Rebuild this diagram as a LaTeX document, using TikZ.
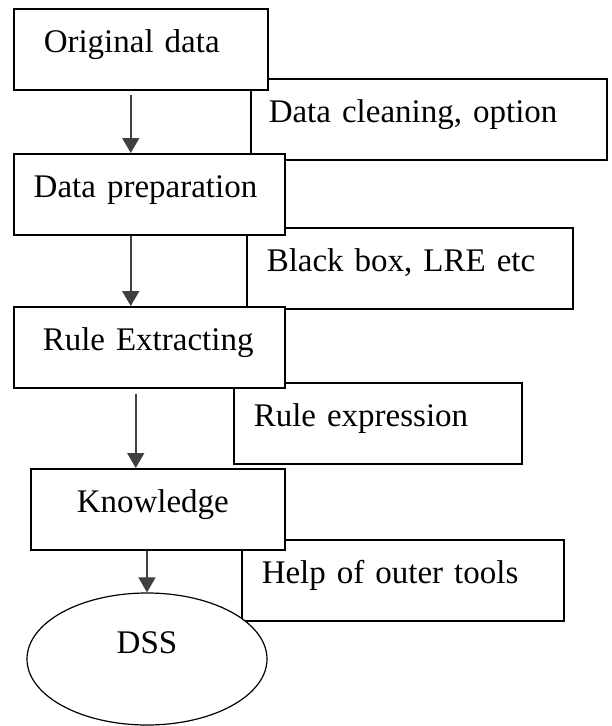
\documentclass[tikz,border=0pt]{standalone}
\usepackage{fontspec}
\setmainfont{Liberation Serif}
\usetikzlibrary{arrows.meta,shapes.geometric}
\begin{document}
\begin{tikzpicture}[x=1pt,y=-1pt,
  box/.style={draw,fill=white,line width=1.5pt,anchor=north west,align=left,
    inner ysep=0pt,text height=44pt,text depth=37pt,font=\fontsize{33}{40}\selectfont},
  flow/.style={line width=1.6pt,black!75,-{Triangle[width=17pt,length=15pt]}}]
\useasboundingbox (0,0) rectangle (612,726);
% side notes first, the stages lie over them
\node[box,text width=320pt,inner xsep=18pt] (clean) at (250,78) {Data cleaning, option};
\node[box,text width=286pt,inner xsep=20pt] (black) at (246,227) {Black box, LRE etc};
\node[box,text width=248pt,inner xsep=20pt] (expr) at (233,382) {Rule expression};
\node[box,text width=282pt,inner xsep=20pt] (tools) at (241,539) {Help of outer tools};
% stages
\node[box,text width=194pt,inner xsep=30pt] (orig) at (13,8) {Original data};
\node[box,text width=231pt,inner xsep=20pt] (prep) at (13,153) {Data preparation};
\node[box,text width=213pt,inner xsep=29pt] (rule) at (13,306) {Rule Extracting};
\node[box,text width=162pt,inner xsep=46pt] (know) at (30,468) {Knowledge};
\node[draw,fill=white,line width=1.2pt,ellipse,minimum width=240pt,minimum height=132pt,
  text height=22pt,text depth=34pt,font=\fontsize{33}{40}\selectfont] (dss) at (147,659) {DSS};
\draw[flow] ([xshift=-10pt,yshift=-4pt]orig.south) -- ([xshift=-18.5pt]prep.north);
\draw[flow] ([xshift=-18.5pt]prep.south) -- ([xshift=-18.5pt]rule.north);
\draw[flow] ([xshift=-13.5pt,yshift=-5pt]rule.south) -- ([xshift=-22pt]know.north);
\draw[flow] (know.south -| dss.north) -- (dss.north);
\end{tikzpicture}
\end{document}
